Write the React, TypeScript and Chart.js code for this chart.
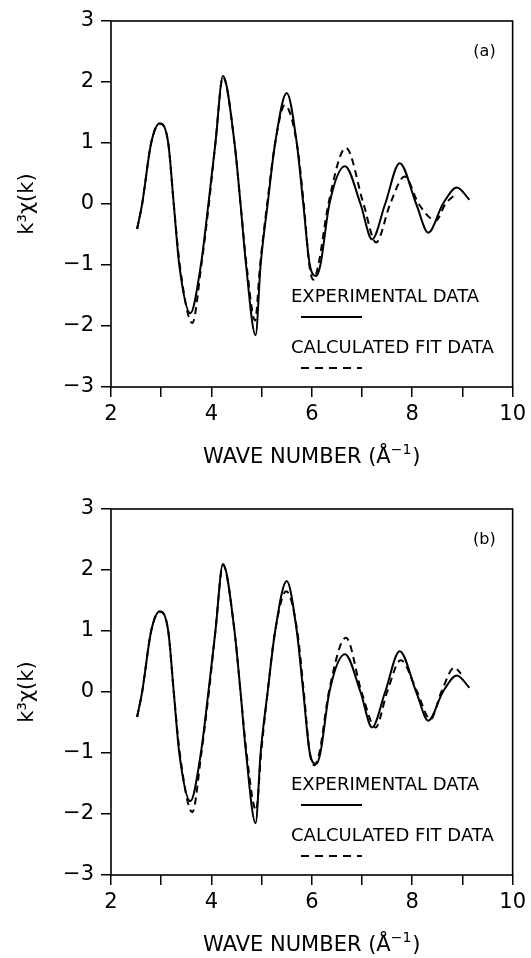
import React, { useEffect, useRef } from "react";
import { Chart, registerables } from "chart.js";

Chart.register(...registerables);

// Experimental k^3 chi(k) (same in both panels)
const expK = [2.52, 2.62, 2.80, 2.97, 3.14, 3.25, 3.36, 3.58, 3.79, 3.94, 4.08, 4.23, 4.46, 4.58, 4.69, 4.88, 4.98, 5.12, 5.27, 5.50, 5.70, 5.83, 5.96, 6.09, 6.17, 6.35, 6.66, 6.97, 7.20, 7.46, 7.75, 8.08, 8.32, 8.61, 8.89, 9.14];
const expChi = [-0.41, 0.00, 1.00, 1.32, 1.00, 0.00, -1.00, -1.79, -1.00, 0.00, 1.00, 2.10, 1.00, 0.00, -1.00, -2.15, -1.00, 0.00, 1.00, 1.82, 1.00, 0.00, -1.00, -1.18, -1.00, 0.00, 0.62, 0.00, -0.58, 0.00, 0.67, 0.00, -0.47, 0.00, 0.27, 0.07];

// Calculated fit, panel (a)
const fitAK = [2.52, 2.62, 2.80, 2.97, 3.14, 3.25, 3.37, 3.62, 3.80, 3.95, 4.08, 4.23, 4.46, 4.58, 4.70, 4.87, 4.97, 5.11, 5.27, 5.46, 5.70, 5.84, 5.95, 6.03, 6.13, 6.33, 6.68, 7.03, 7.28, 7.56, 7.85, 8.13, 8.47, 8.66, 8.88];
const fitAChi = [-0.41, 0.00, 1.00, 1.32, 1.00, 0.00, -1.00, -1.95, -1.00, 0.00, 1.00, 2.08, 1.00, 0.00, -1.00, -1.91, -1.00, 0.00, 1.00, 1.62, 1.00, 0.00, -1.00, -1.24, -1.00, 0.00, 0.92, 0.00, -0.63, 0.00, 0.45, 0.00, -0.27, 0.00, 0.17];

// Calculated fit, panel (b)
const fitBK = [2.52, 2.62, 2.80, 2.97, 3.14, 3.25, 3.37, 3.62, 3.80, 3.95, 4.08, 4.23, 4.46, 4.58, 4.70, 4.89, 4.99, 5.12, 5.27, 5.49, 5.71, 5.84, 5.96, 6.05, 6.15, 6.34, 6.68, 6.99, 7.27, 7.50, 7.77, 8.10, 8.36, 8.58, 8.84, 8.97];
const fitBChi = [-0.41, 0.00, 1.00, 1.32, 1.00, 0.00, -1.00, -1.97, -1.00, 0.00, 1.00, 2.08, 1.00, 0.00, -1.00, -1.94, -1.00, 0.00, 1.00, 1.65, 1.00, 0.00, -1.00, -1.20, -1.00, 0.00, 0.89, 0.00, -0.58, 0.00, 0.52, 0.00, -0.45, 0.00, 0.40, 0.30];

const xTicks = [2, 4, 6, 8, 10];
const yTicks = [-3, -2, -1, 0, 1, 2, 3];
const legendLabels = ["EXPERIMENTAL DATA", "CALCULATED FIT DATA"];
const xTitle = "WAVE NUMBER (Å";
const xTitleSup = "−1";
const yTitle = "k³χ(k)";

const FONT = '"DejaVu Sans", "Liberation Sans", sans-serif';
const W = 531;
const H = 470;

function toPoints(xs: number[], ys: number[]) {
  return xs.map((x, i) => ({ x, y: ys[i] }));
}

function Panel({ label, fitK, fitChi, top }: { label: string; fitK: number[]; fitChi: number[]; top: number }) {
  const ref = useRef<HTMLCanvasElement | null>(null);

  useEffect(() => {
    if (!ref.current) return;
    const deco = {
      id: "deco",
      afterDraw(chart: any) {
        const { ctx, chartArea: a } = chart;
        ctx.save();
        ctx.strokeStyle = "#000";
        ctx.fillStyle = "#000";
        ctx.lineWidth = 1.6;
        ctx.setLineDash([]);
        ctx.strokeRect(a.left, a.top, a.right - a.left, a.bottom - a.top);

        // panel label
        ctx.font = `16px ${FONT}`;
        ctx.textAlign = "right";
        ctx.textBaseline = "middle";
        ctx.fillText(label, a.right - 17, a.top + 31);

        // legend
        ctx.font = `18px ${FONT}`;
        ctx.textAlign = "left";
        ctx.fillText(legendLabels[0], a.left + 180, a.top + 276);
        ctx.fillText(legendLabels[1], a.left + 180, a.top + 327);
        ctx.lineWidth = 1.8;
        ctx.beginPath();
        ctx.moveTo(a.left + 190, a.top + 296);
        ctx.lineTo(a.left + 251, a.top + 296);
        ctx.stroke();
        ctx.setLineDash([8, 6]);
        ctx.beginPath();
        ctx.moveTo(a.left + 190, a.top + 347);
        ctx.lineTo(a.left + 251, a.top + 347);
        ctx.stroke();
        ctx.setLineDash([]);

        // x title
        const mainFont = `21px ${FONT}`;
        const supFont = `14px ${FONT}`;
        ctx.font = mainFont;
        const w1 = ctx.measureText(xTitle).width;
        const w3 = ctx.measureText(")").width;
        ctx.font = supFont;
        const w2 = ctx.measureText(xTitleSup).width;
        const total = w1 + w2 + w3 + 1;
        const cx = (a.left + a.right) / 2;
        const ty = a.bottom + 71;
        let x0 = cx - total / 2;
        ctx.textAlign = "left";
        ctx.font = mainFont;
        ctx.fillText(xTitle, x0, ty);
        ctx.font = supFont;
        ctx.fillText(xTitleSup, x0 + w1, ty - 8);
        ctx.font = mainFont;
        ctx.fillText(")", x0 + w1 + w2 + 1, ty);

        // y title
        ctx.translate(28, (a.top + a.bottom) / 2);
        ctx.rotate(-Math.PI / 2);
        ctx.textAlign = "center";
        ctx.font = `21px ${FONT}`;
        ctx.fillText(yTitle, 0, 0);
        ctx.restore();
      },
    };

    const chart = new Chart(ref.current, {
      type: "line",
      data: {
        datasets: [
          {
            label: legendLabels[0],
            data: toPoints(expK, expChi),
            borderColor: "#000",
            borderWidth: 2,
            pointRadius: 0,
            fill: false,
            cubicInterpolationMode: "monotone",
          },
          {
            label: legendLabels[1],
            data: toPoints(fitK, fitChi),
            borderColor: "#000",
            borderWidth: 2,
            borderDash: [7, 5],
            pointRadius: 0,
            fill: false,
            cubicInterpolationMode: "monotone",
          },
        ],
      },
      options: {
        responsive: false,
        animation: false,
        devicePixelRatio: 1,
        layout: { padding: { left: 0, right: 10, top: 21, bottom: 0 } },
        plugins: { legend: { display: false }, tooltip: { enabled: false } },
        scales: {
          x: {
            type: "linear",
            min: 2,
            max: 10,
            afterFit(scale: any) {
              scale.height = 83;
            },
            ticks: {
              stepSize: 1,
              autoSkip: false,
              maxRotation: 0,
              padding: 5,
              color: "#000",
              font: { family: FONT, size: 21 },
              callback: (v: any) => (xTicks.includes(Number(v)) ? String(v) : ""),
            },
            grid: { display: true, drawOnChartArea: false, drawTicks: true, tickLength: 10, color: "#000", lineWidth: 1.5 },
            border: { display: false },
          },
          y: {
            type: "linear",
            min: -3,
            max: 3,
            afterFit(scale: any) {
              scale.width = 111;
            },
            ticks: {
              stepSize: 1,
              padding: 7,
              color: "#000",
              font: { family: FONT, size: 21 },
              callback: (v: any) => {
                const n = Number(v);
                if (!yTicks.includes(n)) return "";
                return n < 0 ? "−" + Math.abs(n) : String(n);
              },
            },
            grid: { display: true, drawOnChartArea: false, drawTicks: true, tickLength: 10, color: "#000", lineWidth: 1.5 },
            border: { display: false },
          },
        },
      },
      plugins: [deco],
    } as any);
    return () => chart.destroy();
  }, [label, fitK, fitChi]);

  return (
    <canvas
      ref={ref}
      width={W}
      height={H}
      style={{ position: "absolute", left: 0, top, width: W, height: H }}
    />
  );
}

export default function App() {
  return (
    <div style={{ position: "absolute", left: 0, top: 0, width: W, height: 958, background: "#fff" }}>
      <Panel label="(a)" fitK={fitAK} fitChi={fitAChi} top={0} />
      <Panel label="(b)" fitK={fitBK} fitChi={fitBChi} top={488} />
    </div>
  );
}
